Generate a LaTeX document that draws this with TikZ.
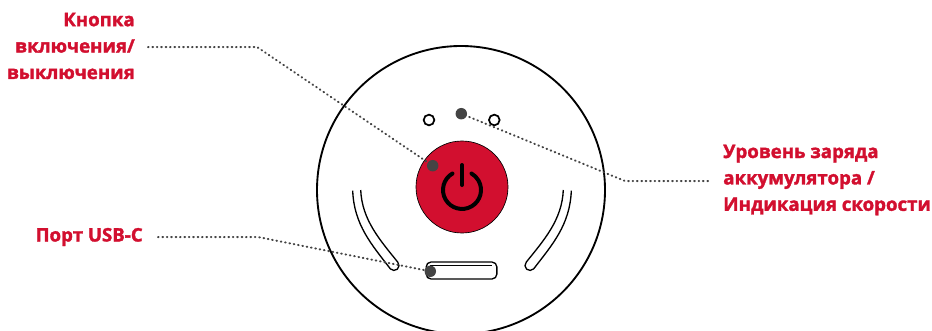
\documentclass[tikz,border=0pt]{standalone}
\usepackage{fontspec}
\setmainfont[BoldFeatures={FakeBold=1.7}]{Open Sans}
\definecolor{brandred}{HTML}{D20F2F}
\definecolor{dotgray}{HTML}{444444}
\tikzset{
  x=.75pt,y=.75pt,
  label text/.style={text=brandred,font=\bfseries\fontsize{14pt}{19.8pt}\selectfont,inner sep=0pt},
  leader/.style={dotgray,line width=1.5pt,line cap=round,dash pattern=on .5pt off 2.8pt},
  marker/.style={circle,fill=dotgray,draw=none,minimum size=8.6pt,inner sep=0pt},
  led/.style={circle,draw=black,line width=1.3pt,fill=white,minimum size=8pt,inner sep=0pt},
  body/.style={draw=black,line width=1.4pt},
  thin body/.style={draw=black,line width=1pt},
}
\begin{document}
\begin{tikzpicture}
\useasboundingbox (0,0) rectangle (932,330);
\begin{scope}
\clip (0,0) rectangle (932,330);
\node[circle,body,fill=white,minimum size=216pt,inner sep=0pt] (housing) at (461,140) {};
\end{scope}
\node[circle,draw=black,line width=.5pt,fill=brandred,minimum size=69pt,inner sep=0pt] (button) at (462,143) {};
% power icon
\draw[black,line width=3pt,line cap=round] (462,165) -- (462,145);
\draw[black,line width=3pt,line cap=round] (452.5,156.5) arc[start angle=120,end angle=420,radius=19];
% LEDs
\node[led] (ledA) at (429,210) {};
\node[led] (ledB) at (494.3,210) {};
% side grooves
\draw[thin body] (352.7,139.3) .. controls (354,105) and (372,85) .. (390.3,61.2) arc[start angle=222,end angle=402,radius=5] .. controls (380,90) and (362,110) .. (360.7,140);
\draw[thin body] (571.3,139.3) .. controls (570,105) and (552,85) .. (533.7,61.2) arc[start angle=-42,end angle=-222,radius=5] .. controls (544,90) and (562,110) .. (563.3,140);
% USB port
\node[draw=black,line width=1pt,rounded corners=3.6pt,fill=white,minimum width=53pt,minimum height=12.7pt,inner sep=0pt] (usb) at (461.5,59.5) {};
\draw[black,line width=1pt] (430,64.3) -- (492,64.3);
% markers
\node[marker] (mPower) at (432.7,164.3) {};
\node[marker] (mLevel) at (461.3,216.3) {};
\node[marker] (mUsb) at (430.3,58.7) {};
% labels
\node[label text,align=right,anchor=east] (lPower) at (135,284) {Кнопка\\включения/\\выключения};
\node[label text,align=left,anchor=west] (lLevel) at (723,150) {Уровень заряда\\аккумулятора /\\Индикация скорости};
\node[label text,anchor=east] (lUsb) at (143,93) {Порт USB-C};
% leader ends
\coordinate (sPower) at (148,283);
\coordinate (kPower) at (257,283);
\coordinate (sLevel) at (708,149);
\coordinate (kLevel) at (625,149);
\coordinate (sUsb) at (158,93);
\coordinate (kUsb) at (258,93);
\draw[leader] (sPower) -- (kPower) -- (mPower.center);
\draw[leader] (sLevel) -- (kLevel) -- (mLevel.center);
\draw[leader] (sUsb) -- (kUsb) -- (mUsb.center);
\end{tikzpicture}
\end{document}
